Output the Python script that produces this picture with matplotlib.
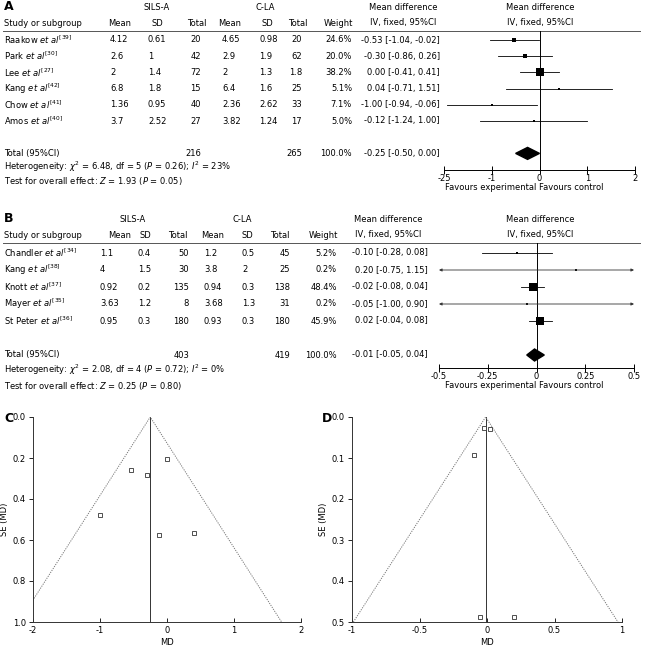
import matplotlib
matplotlib.use('Agg')
import matplotlib.pyplot as plt
from matplotlib.patches import Polygon

plt.rcParams['font.family'] = 'DejaVu Sans'
plt.rcParams['mathtext.fontset'] = 'dejavusans'

W, H = 646, 654
FS = 6.0

########### panel A data ###########
studies_a = ['Raakow', 'Park', 'Lee', 'Kang', 'Chow', 'Amos']
refs_a = ['39', '30', '27', '42', '41', '40']
sils_mean_a = [4.12, 2.6, 2, 6.8, 1.36, 3.7]
sils_sd_a = [0.61, 1, 1.4, 1.8, 0.95, 2.52]
sils_n_a = [20, 42, 72, 15, 40, 27]
cla_mean_a = [4.65, 2.9, 2, 6.4, 2.36, 3.82]
cla_sd_a = [0.98, 1.9, 1.3, 1.6, 2.62, 1.24]
cla_n_a = [20, 62, 1.8, 25, 33, 17]
weight_a = [24.6, 20.0, 38.2, 5.1, 7.1, 5.0]
ci_text_a = ['-0.53 [-1.04, -0.02]', '-0.30 [-0.86, 0.26]', '0.00 [-0.41, 0.41]',
             '0.04 [-0.71, 1.51]', '-1.00 [-0.94, -0.06]', '-0.12 [-1.24, 1.00]']
md_a = [-0.53, -0.30, 0.00, 0.40, -1.00, -0.12]
lo_a = [-1.04, -0.86, -0.41, -0.71, -1.94, -1.24]
hi_a = [-0.02, 0.26, 0.41, 1.51, -0.06, 1.00]
total_a = [216, 265]
pooled_a = [-0.25, -0.50, 0.00]
pooled_text_a = '-0.25 [-0.50, 0.00]'
het_a = r'Heterogeneity: $\chi^2$ = 6.48, df = 5 ($P$ = 0.26); $I^2$ = 23%'
test_a = r'Test for overall effect: $Z$ = 1.93 ($P$ = 0.05)'
ticks_a = [-2, -1, 0, 1, 2]
ticklabels_a = ['-25', '-1', '0', '1', '2']

########### panel B data ###########
studies_b = ['Chandler', 'Kang', 'Knott', 'Mayer', 'St Peter']
refs_b = ['34', '38', '37', '35', '36']
sils_mean_b = [1.1, 4, 0.92, 3.63, 0.95]
sils_sd_b = [0.4, 1.5, 0.2, 1.2, 0.3]
sils_n_b = [50, 30, 135, 8, 180]
cla_mean_b = [1.2, 3.8, 0.94, 3.68, 0.93]
cla_sd_b = [0.5, 2, 0.3, 1.3, 0.3]
cla_n_b = [45, 25, 138, 31, 180]
weight_b = [5.2, 0.2, 48.4, 0.2, 45.9]
ci_text_b = ['-0.10 [-0.28, 0.08]', '0.20 [-0.75, 1.15]', '-0.02 [-0.08, 0.04]',
             '-0.05 [-1.00, 0.90]', '0.02 [-0.04, 0.08]']
md_b = [-0.10, 0.20, -0.02, -0.05, 0.02]
lo_b = [-0.28, -0.75, -0.08, -1.00, -0.04]
hi_b = [0.08, 1.15, 0.04, 0.90, 0.08]
total_b = [403, 419]
pooled_b = [-0.01, -0.05, 0.04]
pooled_text_b = '-0.01 [-0.05, 0.04]'
het_b = r'Heterogeneity: $\chi^2$ = 2.08, df = 4 ($P$ = 0.72); $I^2$ = 0%'
test_b = r'Test for overall effect: $Z$ = 0.25 ($P$ = 0.80)'
ticks_b = [-0.5, -0.25, 0, 0.25, 0.5]
ticklabels_b = ['-0.5', '-0.25', '0', '0.25', '0.5']

########### funnel data ###########
funnel_c_md = [-0.53, -0.30, 0.00, 0.40, -1.00, -0.12]
funnel_c_se = [0.26, 0.285, 0.205, 0.565, 0.48, 0.575]
funnel_d_md = [-0.10, 0.20, -0.02, -0.05, 0.02]
funnel_d_se = [0.092, 0.487, 0.028, 0.487, 0.029]

fig = plt.figure(figsize=(W / 100, H / 100), dpi=100)
tab = fig.add_axes([0, 0, 1, 1])
tab.set_xlim(0, W)
tab.set_ylim(H, 0)
tab.axis('off')


def box(x0, y0, x1, y1):
    return [x0 / W, 1 - y1 / H, (x1 - x0) / W, (y1 - y0) / H]


def fmt(v):
    return '{:g}'.format(v)


def panel(letter, ys, hx, vx, data, forest):
    (y_grp, y_head, y_line, row0, step, y_het, y_test, y_axis) = ys
    (studies, refs, m1, s1, n1, m2, s2, n2, wt, ci_txt, totals, ptxt, het, test) = data
    t = dict(fontsize=FS, va='center')
    tab.text(4, y_grp, letter, fontsize=9, fontweight='bold', va='center')
    tab.text(hx['g1'], y_grp, 'SILS-A', ha='center', **t)
    tab.text(hx['g2'], y_grp, 'C-LA', ha='center', **t)
    tab.text(hx['ci'], y_grp, 'Mean difference', ha='center', **t)
    tab.text(hx['fp'], y_grp, 'Mean difference', ha='center', **t)
    tab.text(4, y_head, 'Study or subgroup', **t)
    for key, lab in [('m1', 'Mean'), ('s1', 'SD'), ('n1', 'Total'), ('m2', 'Mean'),
                     ('s2', 'SD'), ('n2', 'Total'), ('w', 'Weight'),
                     ('ci', 'IV, fixed, 95%CI'), ('fp', 'IV, fixed, 95%CI')]:
        tab.text(hx[key], y_head, lab, ha='center', **t)
    tab.plot([3, 640], [y_line, y_line], color='#555555', lw=0.7)
    for i in range(len(studies)):
        y = row0 + step * i
        tab.text(4, y, studies[i] + r' $\mathit{et\ al}^{[' + refs[i] + ']}$', **t)
        cells = [('m1', fmt(m1[i])), ('s1', fmt(s1[i])), ('n1', fmt(n1[i])),
                 ('m2', fmt(m2[i])), ('s2', fmt(s2[i])), ('n2', fmt(n2[i])),
                 ('w', '{:.1f}%'.format(wt[i])), ('ci', ci_txt[i])]
        for key, s in cells:
            x, ha = vx[key]
            tab.text(x, y, s, ha=ha, **t)
    yt = row0 + step * (len(studies) + 1)
    tab.text(4, yt, 'Total (95%CI)', **t)
    tab.text(vx['n1'][0], yt, str(totals[0]), ha='right', **t)
    tab.text(vx['n2'][0], yt, str(totals[1]), ha='right', **t)
    tab.text(vx['w'][0], yt, '100.0%', ha='right', **t)
    tab.text(vx['ci'][0], yt, ptxt, ha='right', **t)
    tab.text(4, y_het, het, **t)
    tab.text(4, y_test, test, **t)
    tab.text(536, y_axis + 17, 'Favours experimental', ha='right', **t)
    tab.text(539, y_axis + 17, 'Favours control', ha='left', **t)

    # forest plot
    (x0, x1, xlim, md, lo, hi, pooled, ticks, tlabels) = forest
    ax = fig.add_axes(box(x0, y_line, x1, y_axis))
    ax.patch.set_alpha(0)
    ax.set_xlim(xlim)
    ax.set_ylim((y_axis - row0) / step, -(row0 - y_line) / step)
    for sp in ['top', 'left', 'right']:
        ax.spines[sp].set_visible(False)
    ax.spines['bottom'].set_linewidth(0.7)
    ax.set_yticks([])
    ax.set_xticks(ticks)
    ax.set_xticklabels(tlabels)
    ax.tick_params(axis='x', direction='inout', length=6, width=0.7, labelsize=FS, pad=0)
    ax.axvline(0, color='k', lw=0.7)
    for i in range(len(md)):
        a, b = max(lo[i], xlim[0]), min(hi[i], xlim[1])
        if a > lo[i] or b < hi[i]:
            ax.annotate('', xy=(a, i), xytext=(b, i),
                        arrowprops=dict(arrowstyle='<|-|>', lw=0.6, color='#333333',
                                        mutation_scale=4, shrinkA=0, shrinkB=0))
        else:
            ax.plot([a, b], [i, i], color='k', lw=0.6)
        side = max(2.0, 0.185 * wt[i]) * 0.72
        ax.plot(md[i], i, marker='s', ms=side, color='k', mew=0)
    ip = len(md) + 1
    h = 6.0 / step
    ax.add_patch(Polygon([(pooled[1], ip), (pooled[0], ip - h), (pooled[2], ip),
                          (pooled[0], ip + h)], closed=True, color='k'))


panel('A', (7, 23, 31, 40, 16.2, 167, 181, 170),
      dict(g1=157, g2=265, m1=120, s1=157, n1=197, m2=230, s2=267, n2=298, w=338, ci=403, fp=540),
      dict(m1=(110, 'left'), s1=(148, 'left'), n1=(201, 'right'), m2=(222, 'left'),
           s2=(259, 'left'), n2=(302, 'right'), w=(352, 'right'), ci=(440, 'right')),
      (studies_a, refs_a, sils_mean_a, sils_sd_a, sils_n_a, cla_mean_a, cla_sd_a, cla_n_a,
       weight_a, ci_text_a, total_a, pooled_text_a, het_a, test_a),
      (444, 635, (-2, 2), md_a, lo_a, hi_a, pooled_a, ticks_a, ticklabels_a))

panel('B', (219, 235, 243, 253, 17, 370, 386, 368),
      dict(g1=133, g2=242, m1=120, s1=145, n1=178, m2=213, s2=247, n2=280, w=323, ci=388, fp=540),
      dict(m1=(100, 'left'), s1=(138, 'left'), n1=(189, 'right'), m2=(204, 'left'),
           s2=(242, 'left'), n2=(290, 'right'), w=(337, 'right'), ci=(428, 'right')),
      (studies_b, refs_b, sils_mean_b, sils_sd_b, sils_n_b, cla_mean_b, cla_sd_b, cla_n_b,
       weight_b, ci_text_b, total_b, pooled_text_b, het_b, test_b),
      (439, 634, (-0.5, 0.5), md_b, lo_b, hi_b, pooled_b, ticks_b, ticklabels_b))


########### funnel plots ###########
def funnel(letter, bx, mdv, sev, pooled, xlim, ymax, xticks, xlabels, yticks, lx):
    ax = fig.add_axes(box(*bx))
    ax.patch.set_alpha(0)
    ax.set_xlim(xlim)
    ax.set_ylim(ymax, 0)
    for sp in ['top', 'right']:
        ax.spines[sp].set_visible(False)
    for sp in ['left', 'bottom']:
        ax.spines[sp].set_linewidth(0.7)
        ax.spines[sp].set_color('#333333')
    ax.set_xticks(xticks)
    ax.set_xticklabels(xlabels)
    ax.set_yticks(yticks)
    ax.set_yticklabels(['{:.1f}'.format(v) for v in yticks])
    ax.tick_params(axis='x', direction='in', length=3, width=0.6, labelsize=FS, pad=3)
    ax.tick_params(axis='y', direction='out', length=3, width=0.6, labelsize=FS, pad=2)
    ax.plot([pooled, pooled], [0, ymax], color='#333333', lw=0.7)
    ax.plot([pooled - 1.96 * ymax, pooled, pooled + 1.96 * ymax], [ymax, 0, ymax],
            color='#777777', lw=0.7, ls=(0, (1.2, 1.2)), clip_on=True)
    ax.plot(mdv, sev, 's', ms=3.2, mfc='white', mec='#333333', mew=0.6, clip_on=False)
    ax.set_xlabel('MD', fontsize=FS, labelpad=2)
    ax.set_ylabel('SE (MD)', fontsize=FS, labelpad=3)
    tab.text(lx, 419, letter, fontsize=9, fontweight='bold', va='center')


funnel('C', (33, 417, 301, 622), funnel_c_md, funnel_c_se, pooled_a[0], (-2, 2), 1.0,
       [-2, -1, 0, 1, 2], ['-2', '-1', '0', '1', '2'], [0, 0.2, 0.4, 0.6, 0.8, 1.0], 4)
funnel('D', (352, 417, 622, 622), funnel_d_md, funnel_d_se, pooled_b[0], (-1, 1), 0.5,
       [-1, -0.5, 0, 0.5, 1], ['-1', '-0.5', '0', '0.5', '1'], [0, 0.1, 0.2, 0.3, 0.4, 0.5], 322)

fig.savefig('out.png', dpi=100)
